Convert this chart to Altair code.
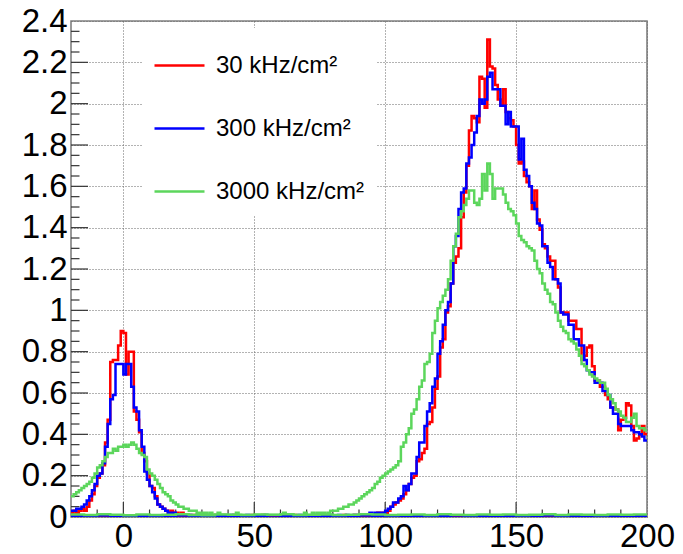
import altair as alt
import pandas as pd

# ---------------- data (bin contents) ----------------
X_MIN, X_MAX = -20, 200
BIN_W = 1      # main histograms: 1-unit bins from -20 to 200
BASE_W = 5     # near-zero companion histograms: 5-unit bins

series_names = ["30 kHz/cm²", "300 kHz/cm²", "3000 kHz/cm²"]
series_colors = ["#ff0000", "#0000ff", "#5cd65c"]

red_30 = [
    0.02, 0.03, 0.02, 0.03, 0.04, 0.03, 0.05, 0.08, 0.11, 0.15,
    0.19, 0.21, 0.25, 0.36, 0.47, 0.75, 0.76, 0.76, 0.83, 0.90,
    0.89, 0.69, 0.80, 0.80, 0.51, 0.47, 0.41, 0.31, 0.27, 0.21,
    0.15, 0.14, 0.10, 0.06, 0.05, 0.04, 0.03, 0.02, 0.03, 0.02,
    0.02, 0.01, 0.02, 0.01, 0.01, 0.01, 0.00, 0.01, 0.00, 0.01,
    0.00, 0.01, 0.00, 0.00, 0.01, 0.00, 0.00, 0.00, 0.01, 0.00,
    0.00, 0.00, 0.01, 0.00, 0.00, 0.00, 0.00, 0.00, 0.00, 0.01,
    0.00, 0.00, 0.00, 0.01, 0.00, 0.00, 0.00, 0.00, 0.00, 0.00,
    0.00, 0.00, 0.00, 0.00, 0.00, 0.01, 0.00, 0.00, 0.00, 0.00,
    0.00, 0.00, 0.00, 0.00, 0.00, 0.00, 0.01, 0.00, 0.00, 0.00,
    0.00, 0.00, 0.00, 0.00, 0.01, 0.00, 0.00, 0.00, 0.01, 0.00,
    0.00, 0.01, 0.00, 0.01, 0.01, 0.01, 0.01, 0.02, 0.01, 0.02,
    0.02, 0.03, 0.05, 0.06, 0.07, 0.08, 0.09, 0.11, 0.13, 0.16,
    0.19, 0.20, 0.27, 0.28, 0.31, 0.33, 0.45, 0.46, 0.53, 0.62,
    0.68, 0.82, 0.86, 0.99, 1.02, 1.13, 1.23, 1.26, 1.30, 1.45,
    1.57, 1.70, 1.87, 1.94, 1.93, 1.91, 2.13, 2.12, 1.98, 2.31,
    2.18, 2.17, 2.09, 2.02, 1.99, 2.07, 1.96, 1.93, 1.92, 1.89,
    1.80, 1.71, 1.72, 1.65, 1.62, 1.60, 1.49, 1.58, 1.44, 1.39,
    1.32, 1.30, 1.26, 1.24, 1.24, 1.15, 1.11, 0.99, 0.99, 0.99,
    0.95, 0.95, 0.95, 0.91, 0.91, 0.76, 0.78, 0.82, 0.83, 0.73,
    0.66, 0.66, 0.63, 0.63, 0.59, 0.57, 0.53, 0.53, 0.52, 0.42,
    0.47, 0.48, 0.55, 0.54, 0.44, 0.37, 0.38, 0.40, 0.44, 0.40,
]

blue_300 = [
    0.03, 0.03, 0.04, 0.04, 0.05, 0.06, 0.08, 0.10, 0.13, 0.16,
    0.20, 0.21, 0.26, 0.34, 0.45, 0.57, 0.59, 0.74, 0.74, 0.74,
    0.69, 0.74, 0.74, 0.63, 0.53, 0.51, 0.42, 0.34, 0.22, 0.18,
    0.15, 0.12, 0.09, 0.06, 0.05, 0.04, 0.03, 0.02, 0.02, 0.02,
    0.01, 0.01, 0.01, 0.01, 0.00, 0.01, 0.00, 0.00, 0.01, 0.00,
    0.00, 0.00, 0.01, 0.00, 0.00, 0.00, 0.01, 0.00, 0.00, 0.00,
    0.00, 0.01, 0.00, 0.00, 0.00, 0.00, 0.00, 0.01, 0.00, 0.00,
    0.00, 0.00, 0.00, 0.00, 0.01, 0.00, 0.00, 0.00, 0.00, 0.00,
    0.01, 0.00, 0.00, 0.00, 0.00, 0.00, 0.00, 0.01, 0.00, 0.00,
    0.00, 0.00, 0.00, 0.01, 0.00, 0.00, 0.00, 0.00, 0.00, 0.01,
    0.00, 0.00, 0.01, 0.00, 0.00, 0.01, 0.00, 0.00, 0.01, 0.00,
    0.01, 0.01, 0.01, 0.01, 0.02, 0.01, 0.02, 0.02, 0.02, 0.02,
    0.03, 0.04, 0.05, 0.07, 0.07, 0.09, 0.10, 0.15, 0.13, 0.16,
    0.21, 0.21, 0.29, 0.36, 0.36, 0.44, 0.51, 0.55, 0.63, 0.67,
    0.79, 0.85, 0.93, 1.00, 1.04, 1.13, 1.31, 1.36, 1.49, 1.57,
    1.59, 1.71, 1.74, 1.80, 1.86, 1.94, 2.02, 2.00, 2.02, 2.13,
    2.15, 2.07, 2.07, 2.07, 1.99, 1.99, 1.90, 1.96, 1.89, 1.89,
    1.89, 1.73, 1.83, 1.68, 1.65, 1.60, 1.52, 1.49, 1.42, 1.41,
    1.31, 1.31, 1.23, 1.21, 1.15, 1.15, 1.13, 0.99, 0.98, 0.98,
    0.93, 0.93, 0.86, 0.86, 0.83, 0.83, 0.76, 0.71, 0.70, 0.70,
    0.65, 0.65, 0.65, 0.61, 0.61, 0.59, 0.53, 0.50, 0.50, 0.45,
    0.44, 0.44, 0.44, 0.44, 0.42, 0.41, 0.41, 0.40, 0.39, 0.37,
]

green_3000 = [
    0.10, 0.11, 0.12, 0.13, 0.14, 0.15, 0.16, 0.17, 0.19, 0.21,
    0.24, 0.25, 0.27, 0.29, 0.31, 0.31, 0.33, 0.32, 0.34, 0.34,
    0.35, 0.34, 0.35, 0.36, 0.35, 0.33, 0.31, 0.30, 0.29, 0.23,
    0.21, 0.20, 0.18, 0.16, 0.14, 0.12, 0.11, 0.10, 0.08, 0.07,
    0.06, 0.05, 0.05, 0.04, 0.04, 0.03, 0.03, 0.03, 0.02, 0.02,
    0.02, 0.02, 0.01, 0.02, 0.01, 0.01, 0.02, 0.01, 0.01, 0.01,
    0.01, 0.01, 0.01, 0.02, 0.01, 0.01, 0.01, 0.01, 0.00, 0.01,
    0.01, 0.01, 0.00, 0.01, 0.01, 0.01, 0.01, 0.00, 0.01, 0.01,
    0.01, 0.02, 0.01, 0.01, 0.01, 0.01, 0.01, 0.01, 0.01, 0.02,
    0.01, 0.01, 0.02, 0.01, 0.02, 0.02, 0.02, 0.01, 0.02, 0.03,
    0.03, 0.03, 0.04, 0.04, 0.05, 0.05, 0.06, 0.06, 0.07, 0.08,
    0.09, 0.10, 0.11, 0.12, 0.13, 0.14, 0.16, 0.17, 0.19, 0.20,
    0.21, 0.22, 0.23, 0.24, 0.25, 0.27, 0.34, 0.36, 0.40, 0.43,
    0.50, 0.52, 0.57, 0.63, 0.66, 0.74, 0.75, 0.79, 0.89, 0.95,
    1.01, 1.04, 1.07, 1.10, 1.15, 1.24, 1.31, 1.37, 1.45, 1.48,
    1.51, 1.54, 1.58, 1.58, 1.52, 1.51, 1.54, 1.66, 1.58, 1.71,
    1.66, 1.54, 1.59, 1.59, 1.59, 1.56, 1.52, 1.49, 1.48, 1.46,
    1.42, 1.36, 1.34, 1.33, 1.31, 1.30, 1.29, 1.24, 1.20, 1.18,
    1.13, 1.10, 1.08, 1.04, 1.03, 0.99, 0.95, 0.92, 0.90, 0.89,
    0.86, 0.85, 0.84, 0.81, 0.78, 0.74, 0.73, 0.71, 0.69, 0.68,
    0.67, 0.66, 0.65, 0.65, 0.62, 0.59, 0.57, 0.55, 0.52, 0.51,
    0.49, 0.48, 0.46, 0.46, 0.48, 0.50, 0.44, 0.43, 0.43, 0.42,
]

# companion histograms lying just above zero over the whole range
red_base = [
    0.003, 0.004, 0.002, 0.003, 0.004, 0.003, 0.002, 0.004, 0.003, 0.003, 0.004,
    0.002, 0.003, 0.004, 0.003, 0.002, 0.003, 0.004, 0.003, 0.002, 0.004, 0.003,
    0.003, 0.002, 0.004, 0.003, 0.003, 0.004, 0.002, 0.003, 0.004, 0.003, 0.002,
    0.003, 0.004, 0.003, 0.002, 0.003, 0.004, 0.003, 0.002, 0.004, 0.003, 0.003,
]
blue_base = [
    0.006, 0.005, 0.007, 0.005, 0.006, 0.004, 0.006, 0.005, 0.007, 0.005, 0.006,
    0.005, 0.004, 0.006, 0.005, 0.007, 0.005, 0.006, 0.004, 0.005, 0.006, 0.005,
    0.007, 0.005, 0.006, 0.004, 0.005, 0.006, 0.005, 0.007, 0.005, 0.006, 0.004,
    0.005, 0.006, 0.005, 0.007, 0.005, 0.006, 0.004, 0.006, 0.005, 0.006, 0.005,
]
green_base = [
    0.012, 0.010, 0.013, 0.011, 0.009, 0.012, 0.010, 0.011, 0.013, 0.010, 0.009,
    0.012, 0.011, 0.010, 0.012, 0.011, 0.013, 0.010, 0.011, 0.012, 0.010, 0.011,
    0.013, 0.012, 0.010, 0.011, 0.012, 0.010, 0.013, 0.011, 0.010, 0.012, 0.011,
    0.012, 0.010, 0.011, 0.013, 0.010, 0.012, 0.011, 0.010, 0.012, 0.011, 0.012,
]

# axis tick positions
x_label_values = [0, 50, 100, 150, 200]
x_major_ticks = [0, 50, 100, 150]
x_minor_ticks = [-10, 10, 20, 30, 40, 60, 70, 80, 90, 110, 120, 130, 140,
                 160, 170, 180, 190]
y_label_values = [0, 0.2, 0.4, 0.6, 0.8, 1.0, 1.2, 1.4, 1.6, 1.8, 2.0, 2.2, 2.4]
y_major_ticks = [0.2, 0.4, 0.6, 0.8, 1.0, 1.2, 1.4, 1.6, 1.8, 2.0, 2.2]
y_minor_ticks = [round(0.05 * k, 2) for k in range(1, 48) if k % 4 != 0]

# ---------------- build table ----------------
rows = []


def add_hist(values, width, name, part):
    for i, v in enumerate(values):
        rows.append({"x": X_MIN + i * width, "y": v, "series": name, "part": part})
    rows.append({"x": X_MIN + len(values) * width, "y": values[-1],
                 "series": name, "part": part})


add_hist(red_30, BIN_W, series_names[0], "main_r")
add_hist(blue_300, BIN_W, series_names[1], "main_b")
add_hist(green_3000, BIN_W, series_names[2], "main_g")
add_hist(red_base, BASE_W, series_names[0], "base_r")
add_hist(blue_base, BASE_W, series_names[1], "base_b")
add_hist(green_base, BASE_W, series_names[2], "base_g")
df = pd.DataFrame(rows)

W, H = 576, 496
FONT = "Liberation Sans"

x_scale = alt.Scale(domain=[X_MIN, X_MAX], nice=False, zero=False)
y_scale = alt.Scale(domain=[0, 2.4], nice=False, zero=False)

color_enc = alt.Color(
    "series:N",
    scale=alt.Scale(domain=series_names, range=series_colors),
    legend=alt.Legend(
        title=None, orient="none", legendX=71, legendY=7,
        fillColor="white", padding=11,
        symbolType="stroke", symbolSize=2500, symbolStrokeWidth=2.5,
        labelFont=FONT, labelFontSize=24, labelColor="black",
        labelOffset=10, rowPadding=24, labelLimit=400,
    ),
)

x_enc = alt.X(
    "x:Q", scale=x_scale, title=None,
    axis=alt.Axis(values=x_label_values, labelFont=FONT, labelFontSize=33,
                  labelColor="black", ticks=False, domain=False,
                  labelPadding=3, labelFlush=False, labelOverlap=False,
                  grid=True, gridDash=[1, 2], gridColor="#666",
                  gridWidth=1),
)
y_enc = alt.Y(
    "y:Q", scale=y_scale, title=None,
    axis=alt.Axis(values=y_label_values, format="~g", labelFont=FONT,
                  labelFontSize=33, labelColor="black", ticks=False,
                  domain=False, labelPadding=4, labelOverlap=False,
                  grid=True, gridDash=[1, 2], gridColor="#666",
                  gridWidth=1),
)


def hist_layer(part):
    return alt.Chart(df).transform_filter(
        alt.datum.part == part
    ).mark_line(interpolate="step-after", strokeWidth=2.5, clip=True).encode(
        x=x_enc, y=y_enc, color=color_enc, order="x:Q"
    )


tick_color = "#333"
xt_major = alt.Chart(pd.DataFrame({"t": x_major_ticks})).mark_rule(
    color=tick_color, strokeWidth=1.2).encode(
    x=alt.X("t:Q", scale=x_scale), y=alt.value(H), y2=alt.value(H - 15))
xt_minor = alt.Chart(pd.DataFrame({"t": x_minor_ticks})).mark_rule(
    color=tick_color, strokeWidth=1.2).encode(
    x=alt.X("t:Q", scale=x_scale), y=alt.value(H), y2=alt.value(H - 7.5))
yt_major = alt.Chart(pd.DataFrame({"t": y_major_ticks})).mark_rule(
    color=tick_color, strokeWidth=1.2).encode(
    y=alt.Y("t:Q", scale=y_scale), x=alt.value(0), x2=alt.value(17))
yt_minor = alt.Chart(pd.DataFrame({"t": y_minor_ticks})).mark_rule(
    color=tick_color, strokeWidth=1.2).encode(
    y=alt.Y("t:Q", scale=y_scale), x=alt.value(0), x2=alt.value(8.5))

chart = alt.layer(
    xt_major, xt_minor, yt_major, yt_minor,
    hist_layer("main_r"), hist_layer("main_b"), hist_layer("main_g"),
    hist_layer("base_r"), hist_layer("base_b"), hist_layer("base_g"),
).properties(
    width=W, height=H,
    autosize=alt.AutoSizeParams(type="none"),
    padding={"left": 63, "top": 13, "right": 28, "bottom": 37},
    background="white",
).configure_view(stroke="#808080", strokeWidth=1.6)

chart.save("out.html", embed_options={"renderer": "svg", "actions": False})
